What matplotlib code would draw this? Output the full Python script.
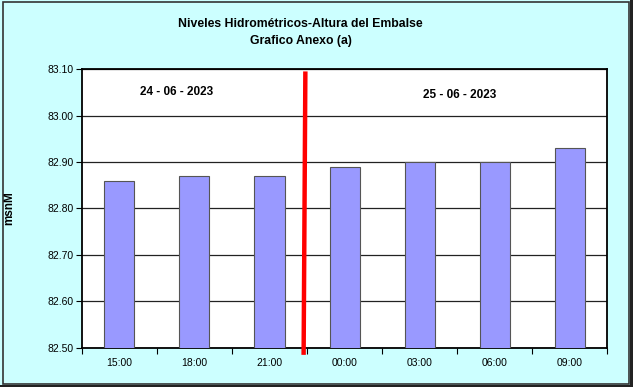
import matplotlib.pyplot as plt
import numpy as np
from matplotlib.patches import Rectangle

# data
horas = ["15:00", "18:00", "21:00", "00:00", "03:00", "06:00", "09:00"]
niveles = [82.86, 82.87, 82.87, 82.89, 82.90, 82.90, 82.93]
yticks = [82.50, 82.60, 82.70, 82.80, 82.90, 83.00, 83.10]
fechas = ["24 - 06 - 2023", "25 - 06 - 2023"]

plt.rcParams['font.family'] = ['Liberation Sans', 'DejaVu Sans']

fig = plt.figure(figsize=(6.33, 3.87), dpi=100)
fig.patch.set_facecolor('#CCFFFF')

# border + shadow
fig.add_artist(Rectangle((0.004, 0.008), 0.99, 0.988, transform=fig.transFigure,
                         fill=False, edgecolor='#333333', linewidth=1.2))
fig.add_artist(Rectangle((0.0, 0.0), 1.0, 0.006, transform=fig.transFigure,
                         facecolor='#222222', edgecolor='none'))
fig.add_artist(Rectangle((0.995, 0.0), 0.005, 1.0, transform=fig.transFigure,
                         facecolor='#222222', edgecolor='none'))

ax = fig.add_axes([0.1295, 0.1008, 0.8295, 0.7209])
ax.set_facecolor('white')

x = np.arange(len(horas))
ax.bar(x, niveles, width=0.4, color='#9999FF', edgecolor='#555555', linewidth=0.8, zorder=3)

ax.set_xlim(-0.5, len(horas) - 0.5)
ax.set_ylim(82.50, 83.10)
ax.set_yticks(yticks)
ax.set_yticklabels([f"{v:.2f}" for v in yticks], fontsize=7.5)
ax.set_xticks(x)
ax.set_xticklabels(horas, fontsize=7.5)
ax.set_xticks(np.arange(-0.5, len(horas)), minor=True)
ax.tick_params(axis='x', which='major', length=0, pad=7)
ax.tick_params(axis='x', which='minor', length=4, width=0.8, direction='out')
ax.tick_params(axis='y', length=4, width=0.8, direction='out', pad=2)

ax.grid(axis='y', color='#222222', linewidth=0.9, zorder=0)
for s in ax.spines.values():
    s.set_linewidth(1.3)
    s.set_color('black')

# separador de fechas
ax.plot([2.478, 2.455], [83.09, 82.49], color='red', linewidth=3.2, clip_on=False, zorder=5)

ax.text(0.76, 83.05, fechas[0], fontsize=8.5, fontweight='bold', ha='center', va='center')
ax.text(4.54, 83.044, fechas[1], fontsize=8.5, fontweight='bold', ha='center', va='center')

ax.set_ylabel("msnM", fontsize=8.5, fontweight='bold', labelpad=23)

fig.text(0.475, 0.938, "Niveles Hidrométricos-Altura del Embalse", fontsize=8.8,
         fontweight='bold', ha='center', va='center')
fig.text(0.475, 0.893, "Grafico Anexo (a)", fontsize=8.8,
         fontweight='bold', ha='center', va='center')

fig.savefig("out.png", dpi=100, facecolor=fig.get_facecolor())
